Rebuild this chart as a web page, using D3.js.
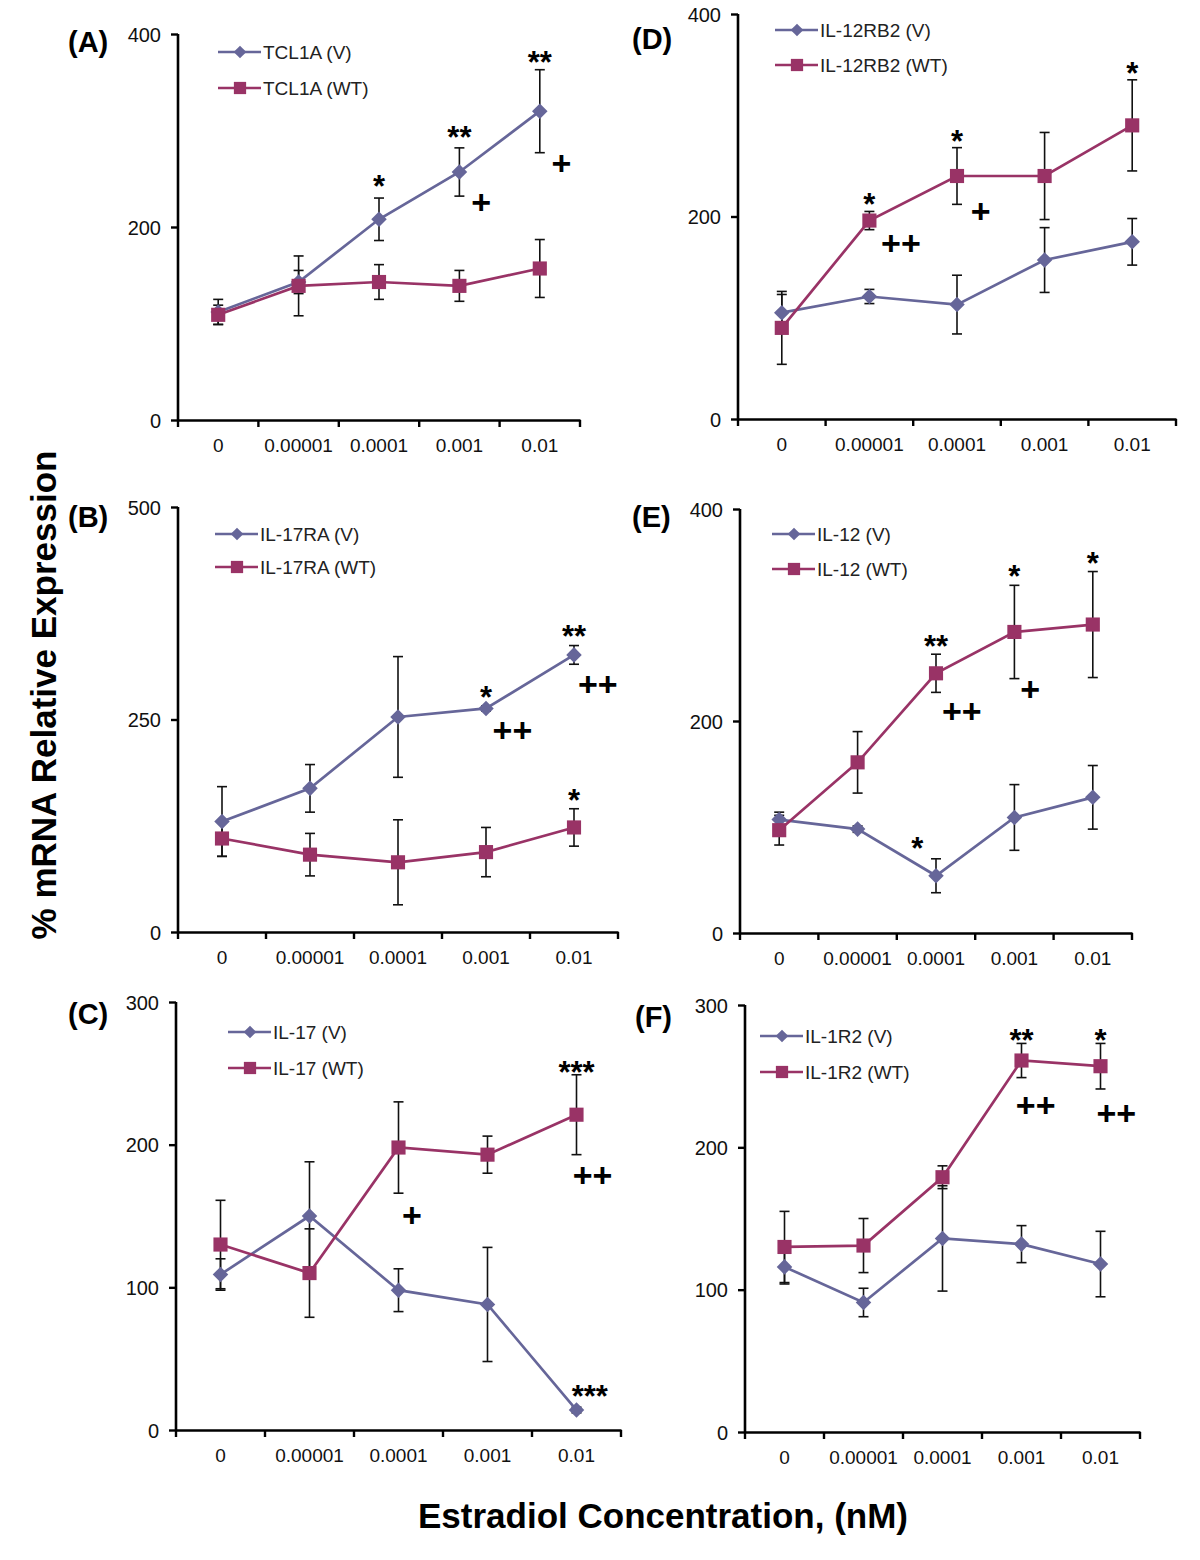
<!DOCTYPE html>
<html><head><meta charset="utf-8">
<script src="https://cdn.jsdelivr.net/npm/d3@7"></script>
<style>body{margin:0;background:#fff}svg{display:block}text{font-family:"Liberation Sans",Arial,sans-serif}</style>
</head><body><svg id="c" width="1200" height="1560"></svg>
<script>
// ---------------- DATA ----------------
const categories = ["0", "0.00001", "0.0001", "0.001", "0.01"];
const panelIds = ["A", "B", "C", "D", "E", "F"];
const geneNames = { A: "TCL1A", B: "IL-17RA", C: "IL-17", D: "IL-12RB2", E: "IL-12", F: "IL-1R2" };
const yMaxes = { A: 400, B: 500, C: 300, D: 400, E: 400, F: 300 };
const yTicks = { A: [0, 200, 400], B: [0, 250, 500], C: [0, 100, 200, 300], D: [0, 200, 400], E: [0, 200, 400], F: [0, 100, 200, 300] };

const vMeans = { A: [112, 143, 208, 257, 320], B: [130, 169, 253, 263, 326], C: [109, 150, 98, 88, 14], D: [105, 121, 113, 157, 175], E: [107, 98, 54, 109, 128], F: [116, 91, 136, 132, 118] };
const vErrs = { A: [13, 12, 22, 25, 43], B: [41, 28, 71, 3, 11], C: [11, 38, 15, 40, 2], D: [18, 7, 29, 32, 23], E: [7, 3, 16, 31, 30], F: [12, 10, 37, 13, 23] };
const wtMeans = { A: [109, 139, 143, 139, 157], B: [110, 91, 82, 94, 123], C: [130, 110, 198, 193, 221], D: [90, 196, 240, 240, 290], E: [97, 161, 245, 284, 291], F: [130, 131, 179, 261, 257] };
const wtErrs = { A: [10, 31, 18, 16, 30], B: [21, 25, 50, 29, 22], C: [31, 31, 32, 13, 28], D: [36, 9, 28, 43, 45], E: [14, 29, 18, 44, 50], F: [25, 19, 8, 12, 16] };

// annotations: panel, category index, text, y value (data units) of symbol centre, horizontal shift in band fractions
const annotations = [
  ["A", 2, "*", 250, 0], ["A", 3, "**", 300, 0], ["A", 4, "**", 378, 0], ["A", 3, "+", 226, 0.27], ["A", 4, "+", 267, 0.27],
  ["D", 1, "*", 219, 0], ["D", 2, "*", 281, 0], ["D", 4, "*", 349, 0], ["D", 1, "++", 174, 0.36], ["D", 2, "+", 206, 0.27],
  ["B", 3, "*", 285, 0], ["B", 4, "**", 356, 0], ["B", 4, "*", 163, 0], ["B", 3, "++", 238, 0.3], ["B", 4, "++", 292, 0.27],
  ["E", 2, "**", 277, 0], ["E", 3, "*", 343, 0], ["E", 4, "*", 356, 0], ["E", 2, "*", 87, -0.24], ["E", 2, "++", 210, 0.33], ["E", 3, "+", 230, 0.2],
  ["C", 4, "***", 256, 0], ["C", 4, "***", 29, 0.15], ["C", 4, "++", 179, 0.18], ["C", 2, "+", 151, 0.15],
  ["F", 3, "**", 280, 0], ["F", 4, "*", 280, 0], ["F", 3, "++", 230, 0.18], ["F", 4, "++", 224, 0.2]
];

// ---------------- LAYOUT ----------------
const layout = {
  A: { x0: 178, x1: 580, yTop: 34, yBot: 420, lab: [68, 52], leg: [218, 52, 36] },
  B: { x0: 178, x1: 618, yTop: 507, yBot: 932, lab: [68, 527], leg: [215, 534, 33] },
  C: { x0: 176, x1: 621, yTop: 1002, yBot: 1430, lab: [68, 1024], leg: [228, 1032, 36] },
  D: { x0: 738, x1: 1176, yTop: 14, yBot: 419, lab: [632, 49], leg: [775, 30, 35] },
  E: { x0: 740, x1: 1132, yTop: 509, yBot: 933, lab: [632, 527], leg: [772, 534, 35] },
  F: { x0: 745, x1: 1140, yTop: 1005, yBot: 1432, lab: [635, 1027], leg: [760, 1036, 36] }
};
const colV = "#666699", colWT = "#993366";
const svg = d3.select("#c");

const diamond = d3.symbol().type(d3.symbolSquare).size(121);   // drawn rotated 45°
const square = d3.symbol().type(d3.symbolSquare).size(200);
const diamondS = d3.symbol().type(d3.symbolSquare).size(80);
const squareS = d3.symbol().type(d3.symbolSquare).size(150);

panelIds.forEach(id => {
  const L = layout[id];
  const g = svg.append("g");
  const x = d3.scaleBand().domain(categories).range([L.x0, L.x1]);
  const y = d3.scaleLinear().domain([0, yMaxes[id]]).range([L.yBot, L.yTop]);

  // y axis
  const ya = g.append("g").attr("transform", `translate(${L.x0},0)`)
    .call(d3.axisLeft(y).tickValues(yTicks[id]).tickSize(7).tickPadding(10).tickFormat(d3.format("d")));
  ya.select(".domain").attr("stroke", "#000").attr("stroke-width", 2.6).attr("d", `M0,${L.yTop}V${L.yBot}`);
  ya.selectAll(".tick line").attr("stroke", "#000").attr("stroke-width", 2.4);
  ya.selectAll(".tick text").attr("font-size", 20).attr("fill", "#111").style("font-family", "Liberation Sans, Arial, sans-serif").attr("dy", "0.35em");

  // x axis
  const xa = g.append("g").attr("transform", `translate(0,${L.yBot})`)
    .call(d3.axisBottom(x).tickSize(0).tickPadding(19));
  xa.select(".domain").attr("stroke", "#000").attr("stroke-width", 2.6);
  xa.selectAll(".tick text").attr("font-size", 19).attr("fill", "#111").style("font-family", "Liberation Sans, Arial, sans-serif");
  const bounds = categories.map(c => x(c)).concat([x(categories[categories.length - 1]) + x.bandwidth()]);
  g.selectAll(".bt").data(bounds).enter().append("line")
    .attr("x1", d => d).attr("x2", d => d).attr("y1", L.yBot).attr("y2", L.yBot + 7)
    .attr("stroke", "#000").attr("stroke-width", 2.4);

  const cx = i => x(categories[i]) + x.bandwidth() / 2;

  const series = [
    { m: vMeans[id], e: vErrs[id], col: colV, sym: diamond, rot: 45 },
    { m: wtMeans[id], e: wtErrs[id], col: colWT, sym: square, rot: 0 }
  ];
  // error bars
  series.forEach(s => {
    s.m.forEach((v, i) => {
      const xx = cx(i), yt = y(v + s.e[i]), yb = y(v - s.e[i]);
      g.append("line").attr("x1", xx).attr("x2", xx).attr("y1", yt).attr("y2", yb).attr("stroke", "#111").attr("stroke-width", 1.6);
      [yt, yb].forEach(yy => g.append("line").attr("x1", xx - 5).attr("x2", xx + 5).attr("y1", yy).attr("y2", yy).attr("stroke", "#111").attr("stroke-width", 1.6));
    });
  });
  // lines + markers
  series.forEach(s => {
    const line = d3.line().x((d, i) => cx(i)).y(d => y(d));
    g.append("path").attr("d", line(s.m)).attr("fill", "none").attr("stroke", s.col).attr("stroke-width", 2.7);
    s.m.forEach((v, i) => g.append("path").attr("d", s.sym()).attr("transform", `translate(${cx(i)},${y(v)}) rotate(${s.rot})`).attr("fill", s.col));
  });

  // annotations
  annotations.filter(a => a[0] === id).forEach(a => {
    const [, i, t, yv, sh] = a;
    const isStar = t.indexOf("*") >= 0;
    const fs = isStar ? 31 : 34;
    const off = isStar ? 0.58 * fs : 0.36 * fs;
    g.append("text").attr("x", cx(i) + sh * x.bandwidth()).attr("y", y(yv) + off)
      .attr("text-anchor", "middle").attr("font-size", fs).attr("font-weight", "bold")
      .attr("fill", "#000").text(t);
  });

  // panel label
  g.append("text").attr("x", L.lab[0]).attr("y", L.lab[1]).attr("font-size", 29).attr("font-weight", "bold").text(`(${id})`);

  // legend
  const [lx, ly, gap] = L.leg;
  [[colV, diamondS, " (V)", 45], [colWT, squareS, " (WT)", 0]].forEach((r, k) => {
    const yy = ly + k * gap;
    g.append("line").attr("x1", lx).attr("x2", lx + 43).attr("y1", yy).attr("y2", yy).attr("stroke", r[0]).attr("stroke-width", 2.7);
    g.append("path").attr("d", r[1]()).attr("transform", `translate(${lx + 22},${yy}) rotate(${r[3]})`).attr("fill", r[0]);
    g.append("text").attr("x", lx + 45).attr("y", yy).attr("dy", "0.36em").attr("font-size", 19).attr("fill", "#222").text(geneNames[id] + r[2]);
  });
});

// global axis titles
svg.append("text").attr("transform", "translate(56,695) rotate(-90)").attr("text-anchor", "middle")
  .attr("font-size", 35).attr("font-weight", "bold").text("% mRNA Relative Expression");
svg.append("text").attr("x", 663).attr("y", 1528).attr("text-anchor", "middle")
  .attr("font-size", 35).attr("font-weight", "bold").text("Estradiol Concentration, (nM)");
</script></body></html>
